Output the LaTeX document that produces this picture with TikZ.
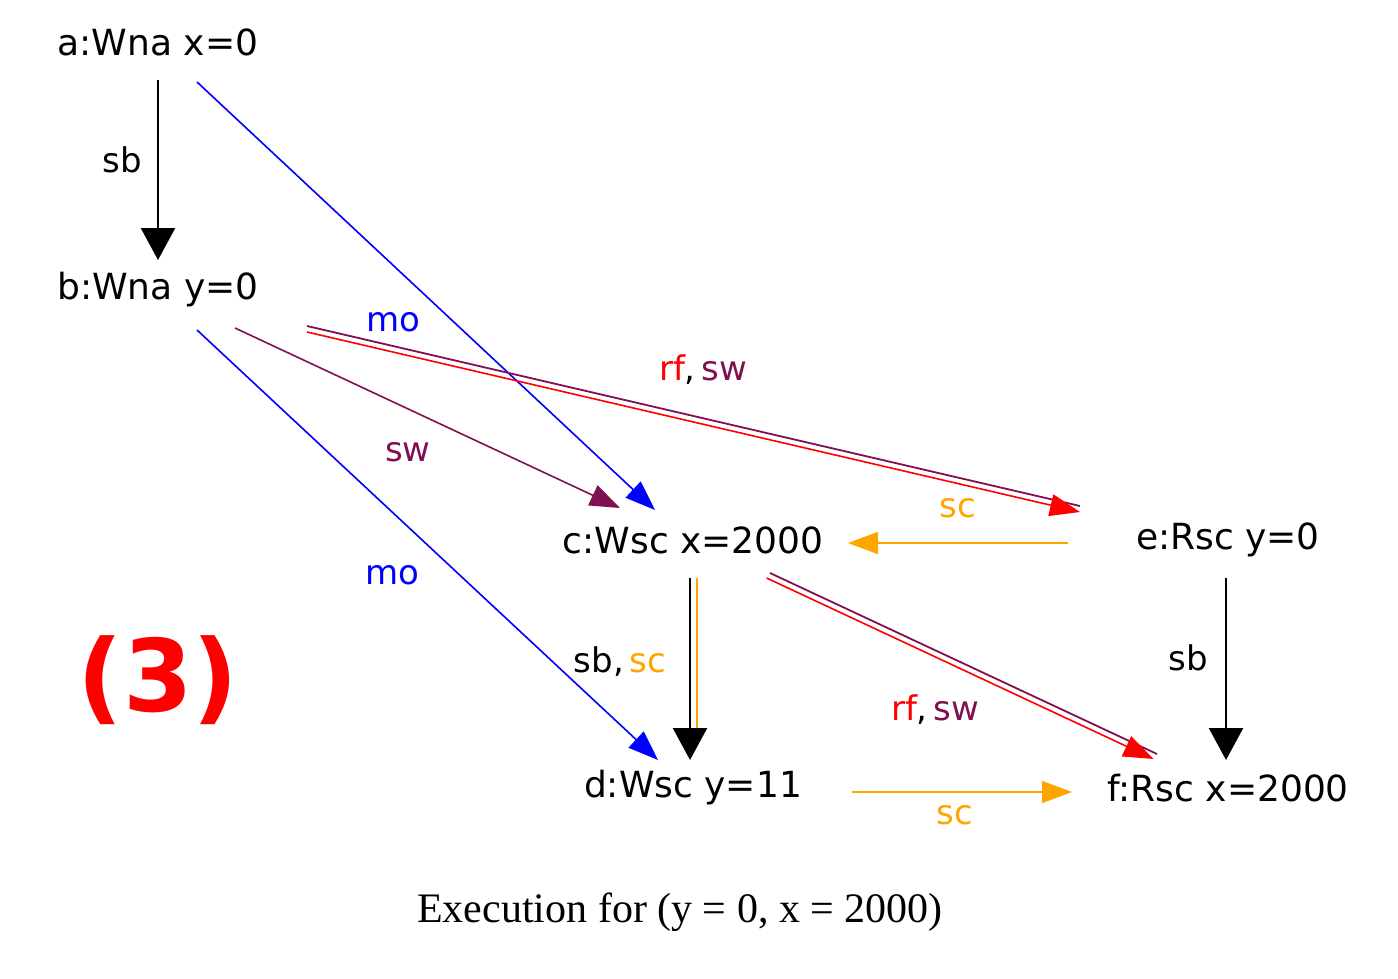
\documentclass[tikz,border=0pt]{standalone}
\usepackage{fontspec}
\setmainfont{Liberation Serif}
\newfontfamily\evfont{DejaVu Sans}
\usetikzlibrary{arrows.meta}
\definecolor{pur}{RGB}{128,16,80}
\definecolor{org}{RGB}{255,165,0}
\begin{document}
\begin{tikzpicture}[x=0.5pt,y=-0.5pt,
  ev/.style={font=\evfont\fontsize{18}{20}\selectfont,inner sep=0pt},
  lb/.style={font=\evfont\fontsize{17}{20}\selectfont,inner sep=0pt},
  ar/.style={line width=0.8pt,-{Triangle[length=15pt,width=11pt]}},
  big/.style={line width=1.2pt,-{Triangle[length=16pt,width=17pt]}}]
\useasboundingbox (0,0) rectangle (1398,979);
\node[ev] (a) at (158,42) {a:Wna x=0};
\node[ev] (b) at (158,290) {b:Wna y=0};
\node[ev] (c) at (693,540) {c:Wsc x=2000};
\node[ev] (d) at (693,788) {d:Wsc y=11};
\node[ev] (e) at (1228,540) {e:Rsc y=0};
\node[ev] (f) at (1228,788) {f:Rsc x=2000};
\node[font=\evfont\bfseries\fontsize{50}{55}\selectfont,text=red] (n3) at (158,680) {(3)};
\node[font=\fontsize{21}{24}\selectfont] (cap) at (680,912) {Execution for (y = 0, x = 2000)};
% coordinates
\coordinate (a1) at (158,80); \coordinate (b0) at (158,260);
\coordinate (a2) at (197,82); \coordinate (c0) at (655,510);
\coordinate (b1) at (235,328); \coordinate (c1) at (620,508);
\coordinate (b2) at (197,330); \coordinate (d0) at (658,760);
\coordinate (b3) at (307,330); \coordinate (e0) at (1080,510);
\coordinate (e1) at (1068,543); \coordinate (c2) at (848,543);
\coordinate (c3) at (690,578); \coordinate (d1) at (690,760);
\coordinate (c4) at (697,578); \coordinate (d2) at (697,735);
\coordinate (c5) at (768,576); \coordinate (f0) at (1155,757);
\coordinate (e2) at (1226,578); \coordinate (f1) at (1226,760);
\coordinate (d3) at (852,792); \coordinate (f2) at (1072,792);
\draw[big,black] (a1) -- (b0);
\node[lb] (l1) at (122,160) {sb};
\draw[ar,blue] (a2) -- (c0);
\draw[ar,pur] (b1) -- (c1);
\node[lb,text=pur] (l2) at (408,452) {sw};
\draw[ar,blue] (b2) -- (d0);
\node[lb,text=blue] (l3) at (392,575) {mo};
\draw[line width=0.9pt,pur,transform canvas={shift={(0pt,2pt)}}] (b3) -- (e0);
\draw[ar,red,transform canvas={shift={(0pt,-1pt)}}] (b3) -- (e0);
\node[lb,text=blue] (l4) at (393,322) {mo};
\node[lb] (l5) at (703,370) {\textcolor{red}{rf},\,\textcolor{pur}{sw}};
\draw[ar,org] (e1) -- (c2);
\node[lb,text=org] (l6) at (958,508) {sc};
\draw[line width=1pt,org] (c4) -- (d2);
\draw[big,black] (c3) -- (d1);
\node[lb] (l7) at (620,662) {sb,\,\textcolor{org}{sc}};
\draw[line width=0.9pt,pur,transform canvas={shift={(1pt,1.5pt)}}] (c5) -- (f0);
\draw[ar,red,transform canvas={shift={(-0.7pt,-1pt)}}] (c5) -- (f0);
\node[lb] (l8) at (935,710) {\textcolor{red}{rf},\,\textcolor{pur}{sw}};
\draw[big,black] (e2) -- (f1);
\node[lb] (l9) at (1188,658) {sb};
\draw[ar,org] (d3) -- (f2);
\node[lb,text=org] (l10) at (955,815) {sc};
\end{tikzpicture}
\end{document}
